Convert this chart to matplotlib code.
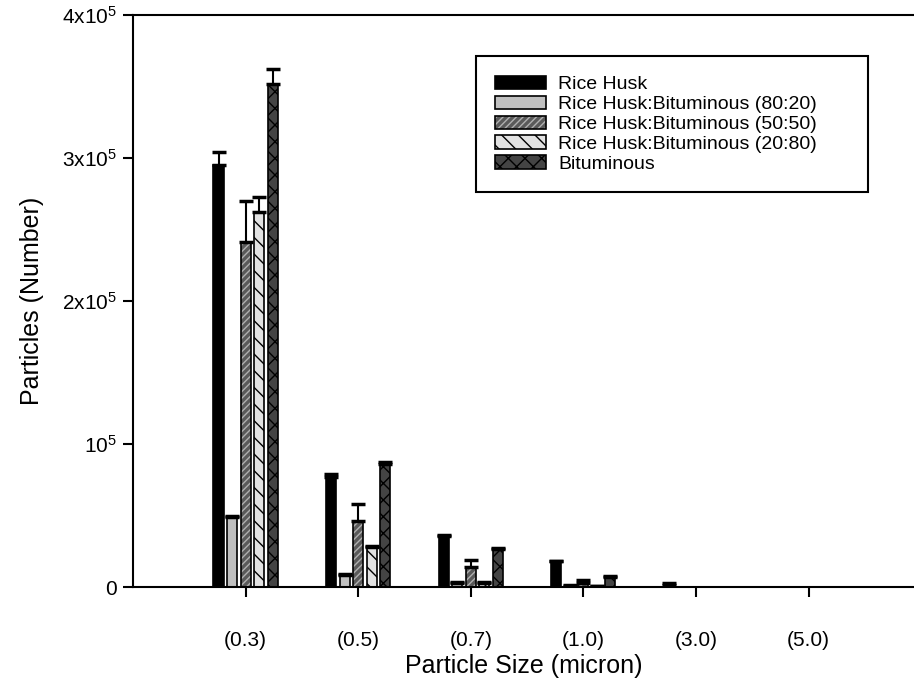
import numpy as np
from matplotlib import pyplot as plt
from matplotlib.colors import to_rgba

plt.rcParams['font.family'] = ['Liberation Sans', 'DejaVu Sans']
plt.rcParams['mathtext.fontset'] = 'custom'
plt.rcParams['mathtext.rm'] = 'Liberation Sans'
plt.rcParams['mathtext.it'] = 'Liberation Sans'
plt.rcParams['hatch.linewidth'] = 1.0

# Размеры частиц
sizes = ['(0.3)', '(0.5)', '(0.7)', '(1.0)', '(3.0)', '(5.0)']

# Рисовая шелуха
rice = np.array([2.95e5, 0.77e5, 0.36e5, 0.18e5, 0.015e5, 0.0])
rice_err = np.array([0.09e5, 0.02e5, 0.004e5, 0.004e5, 0.015e5, 0.0])

# Смесь 80:20
mix_80 = np.array([0.49e5, 0.085e5, 0.03e5, 0.01e5, 0.0, 0.0])
mix_80_err = np.array([0.005e5, 0.003e5, 0.002e5, 0.002e5, 0.0, 0.0])

# Смесь 50:50
mix_50 = np.array([2.41e5, 0.46e5, 0.14e5, 0.03e5, 0.0, 0.0])
mix_50_err = np.array([0.29e5, 0.12e5, 0.05e5, 0.02e5, 0.0, 0.0])

# Смесь 20:80
mix_20 = np.array([2.62e5, 0.28e5, 0.03e5, 0.005e5, 0.0, 0.0])
mix_20_err = np.array([0.11e5, 0.01e5, 0.002e5, 0.002e5, 0.0, 0.0])

# Битуминозный уголь
bit = np.array([3.52e5, 0.86e5, 0.265e5, 0.07e5, 0.0, 0.0])
bit_err = np.array([0.10e5, 0.015e5, 0.005e5, 0.004e5, 0.0, 0.0])

labels = ['Rice Husk', 'Rice Husk:Bituminous (80:20)', 'Rice Husk:Bituminous (50:50)',
          'Rice Husk:Bituminous (20:80)', 'Bituminous']
series = [(rice, rice_err), (mix_80, mix_80_err), (mix_50, mix_50_err),
          (mix_20, mix_20_err), (bit, bit_err)]
colors = ['black', '#c0c0c0', '#5a5a5a', '#e2e2e2', '#444444']
hatches = [None, None, '/////', '\\\\', 'xx']
hatch_colors = ['black', 'black', '#b0b0b0', 'black', 'black']

fig = plt.figure(figsize=(9.14, 6.86), dpi=100)
ax = fig.add_axes([0.1455, 0.1443, 0.8545, 0.8338])

x = np.arange(len(sizes))
step = 0.12
width = 0.09

for k, ((val, err), lab) in enumerate(zip(series, labels)):
    pos = x + (k - 2) * step
    bars = ax.bar(pos, val, width, color=colors[k], edgecolor='black', linewidth=1.2,
                  hatch=hatches[k], label=lab, zorder=2)
    for p in bars.patches:
        p._hatch_color = to_rgba(hatch_colors[k])
    # усы только там, где есть значение
    m = val > 0
    ax.errorbar(pos[m], val[m], yerr=[np.zeros(m.sum()), err[m]], fmt='none', ecolor='black',
                elinewidth=1.5, capsize=5, capthick=2.5, zorder=3)

ax.set_xlim(-1, 5.936)
ax.set_ylim(0, 4e5)
ax.set_xticks(x)
ax.set_xticklabels(sizes)
ax.set_yticks([0, 1e5, 2e5, 3e5, 4e5])
ax.set_yticklabels(['0', r'$10^5$', r'$2\mathrm{x}10^5$', r'$3\mathrm{x}10^5$', r'$4\mathrm{x}10^5$'])

ax.spines['right'].set_visible(False)
for s in ['left', 'bottom', 'top']:
    ax.spines[s].set_linewidth(1.5)
ax.tick_params(direction='out', length=7.5, width=1.5, labelsize=15)
ax.tick_params(axis='y', pad=4)
ax.tick_params(axis='x', pad=24)

ax.set_xlabel('Particle Size (micron)', fontsize=18, labelpad=3)
ax.set_ylabel('Particles (Number)', fontsize=18, labelpad=13)

leg = ax.legend(loc='upper left', bbox_to_anchor=(0.439, 0.685, 0.502, 0.243), mode='expand',
                fontsize=14, fancybox=False, edgecolor='black', handlelength=2.6, handleheight=0.7,
                labelspacing=0.12, borderpad=1.0, handletextpad=0.65, borderaxespad=0,
                framealpha=1)
leg.get_frame().set_linewidth(1.5)

fig.savefig('out.png', dpi=100)
